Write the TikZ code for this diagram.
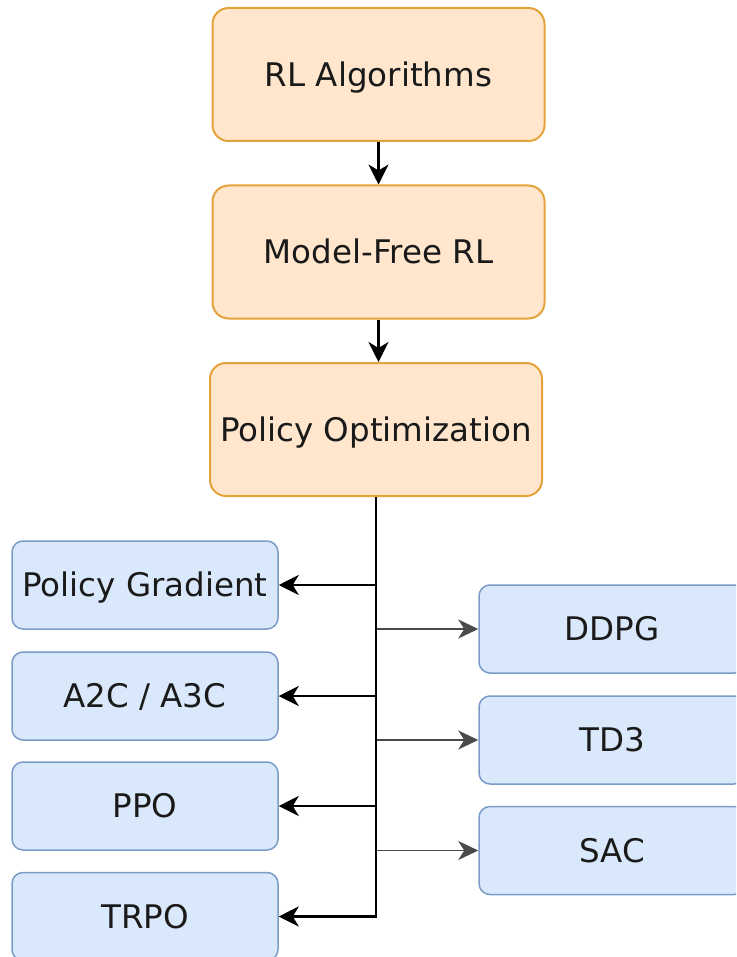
\documentclass[tikz,border=0pt]{standalone}
\usepackage{fontspec}
\setmainfont{DejaVu Sans}
\usetikzlibrary{arrows.meta}
\definecolor{ofill}{HTML}{FFE6CC}
\definecolor{ostroke}{HTML}{E3A33A}
\definecolor{bfill}{HTML}{DAE8FC}
\definecolor{bstroke}{HTML}{7A9CC6}
\definecolor{txt}{HTML}{1A1A1A}
\definecolor{greyline}{HTML}{4A4A4A}
\begin{document}
\begin{tikzpicture}[x=1pt,y=-1pt,
  boxtext/.style={text=txt, font=\fontsize{32.5}{38}\selectfont,
    text height=23.7pt, text depth=0pt, inner sep=0pt},
  obox/.style={boxtext, draw=ostroke, fill=ofill, line width=2pt, rounded corners=16pt,
    minimum width=332pt, minimum height=133pt},
  bbox/.style={boxtext, draw=bstroke, fill=bfill, line width=1.5pt, rounded corners=11pt,
    minimum width=266pt, minimum height=88pt},
  darr/.style={draw=black, line width=2.2pt, -{Stealth[length=20pt,width=20pt,inset=6pt]}},
  rarr/.style={draw=greyline, line width=1.7pt, -{Stealth[length=20pt,width=19pt,inset=6pt]}}
]
\useasboundingbox (0,0) rectangle (736,957);
\begin{scope}
\clip (0,0) rectangle (736,957);
\node[obox] (rl) at (378.5,74.5) {RL Algorithms};
\node[obox] (mf) at (378.5,252) {Model-Free RL};
\node[obox] (po) at (376,429.5) {Policy Optimization};

\node[bbox] (pg) at (145,585) {Policy Gradient};
\node[bbox] (a2c) at (145,696) {A2C / A3C};
\node[bbox] (ppo) at (145,806) {PPO};
\node[bbox] (trpo) at (145,916.5) {TRPO};

\node[bbox] (ddpg) at (612,629) {DDPG};
\node[bbox] (td3) at (612,740) {TD3};
\node[bbox] (sac) at (612,850.5) {SAC};

\draw[darr] (rl.south) -- (mf.north);
\draw[darr] (mf.south) -- (mf.south |- po.north);

\draw[rarr] (po.south |- ddpg.west) -- (ddpg.west);
\draw[rarr] (po.south |- td3.west) -- (td3.west);
\draw[rarr] (po.south |- sac.west) -- (sac.west);

\draw[darr] (po.south |- pg.east) -- (pg.east);
\draw[darr] (po.south |- a2c.east) -- (a2c.east);
\draw[darr] (po.south |- ppo.east) -- (ppo.east);
\draw[darr, line join=miter] (po.south) -- (po.south |- trpo.east) -- (trpo.east);
\end{scope}
\end{tikzpicture}
\end{document}
